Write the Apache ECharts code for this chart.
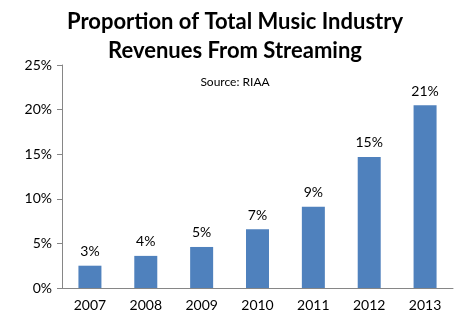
<!DOCTYPE html>
<html>
<head>
<meta charset="utf-8">
<script src="https://cdn.jsdelivr.net/npm/echarts@6/dist/echarts.min.js"></script>
<style>
  html, body { margin: 0; padding: 0; background: #fff; }
  #chart { width: 470px; height: 331px; }
</style>
</head>
<body>
<div id="chart"></div>
<script>
// Share of total music industry revenues coming from streaming (RIAA)
const years = ['2007', '2008', '2009', '2010', '2011', '2012', '2013'];
const streamingShare = [2.5, 3.6, 4.6, 6.6, 9.1, 14.7, 20.5];
const yTicks = [0, 5, 10, 15, 20, 25];

const FONT = 'Lato, "Open Sans", sans-serif';

const chart = echarts.init(document.getElementById('chart'), null, { renderer: 'canvas' });
chart.setOption({
  animation: false,
  backgroundColor: '#ffffff',
  title: [
    {
      text: 'Proportion of Total Music Industry\nRevenues From Streaming',
      left: 'center',
      top: 2,
      textStyle: { fontFamily: FONT, fontSize: 22, fontWeight: 'bold', color: '#000', lineHeight: 29 }
    },
    {
      text: 'Source: RIAA',
      left: 'center',
      top: 71,
      textStyle: { fontFamily: FONT, fontSize: 12, fontWeight: 'normal', color: '#000' }
    }
  ],
  grid: { left: 62, right: 17, top: 65, bottom: 43, containLabel: false },
  xAxis: {
    type: 'category',
    data: years,
    axisLine: { lineStyle: { color: '#868686', width: 1 } },
    axisTick: { show: false },
    axisLabel: { fontFamily: FONT, fontSize: 14, color: '#000', margin: 10 }
  },
  yAxis: {
    type: 'value',
    min: yTicks[0],
    max: yTicks[yTicks.length - 1],
    interval: yTicks[1] - yTicks[0],
    axisLine: { show: true, lineStyle: { color: '#868686', width: 1 } },
    axisTick: { show: true, length: 5, lineStyle: { color: '#868686' } },
    splitLine: { show: false },
    axisLabel: { fontFamily: FONT, fontSize: 14, color: '#000', margin: 10, formatter: v => v + '%' }
  },
  series: [{
    type: 'bar',
    data: streamingShare,
    barWidth: 23,
    itemStyle: { color: '#4f81bd' },
    label: {
      show: true,
      position: 'top',
      distance: 7,
      fontFamily: FONT,
      fontSize: 14,
      color: '#000',
      formatter: p => Math.round(p.value) + '%'
    }
  }]
});
</script>
</body>
</html>
